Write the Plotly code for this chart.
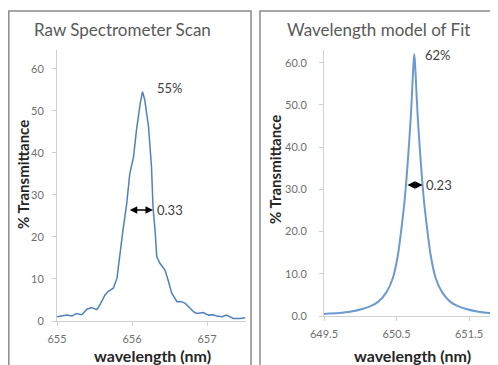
import plotly.graph_objects as go

# page body has an 8px margin; figure sized to fill the rest of the 498x365 window
OFF = 8
W, H = 498 - OFF, 365 - OFF

# ---- data ----
raw_wavelength = [655.00, 655.07, 655.13, 655.20, 655.26, 655.33, 655.40, 655.46, 655.53, 655.57,
                  655.64, 655.68, 655.75, 655.80, 655.84, 655.88, 655.93, 655.97, 656.02, 656.06,
                  656.11, 656.14, 656.17, 656.22, 656.26, 656.28, 656.31, 656.33, 656.37, 656.40,
                  656.44, 656.48, 656.53, 656.60, 656.66, 656.71, 656.77, 656.82, 656.86, 656.95,
                  657.02, 657.08, 657.13, 657.20, 657.26, 657.35, 657.44, 657.51]
raw_transmittance = [1.0, 1.3, 1.4, 1.2, 1.8, 1.5, 2.8, 3.2, 2.7, 3.8,
                     6.2, 7.0, 7.8, 10.2, 16.2, 21.7, 28.0, 35.0, 39.0, 45.5,
                     51.8, 54.6, 52.6, 46.3, 36.7, 27.2, 21.0, 15.3, 13.8, 13.0,
                     12.1, 9.8, 6.6, 4.6, 4.6, 4.2, 3.0, 2.2, 1.8, 2.0,
                     1.4, 1.5, 1.2, 1.0, 1.4, 0.6, 0.6, 0.8]

fit_wavelength = [649.50, 649.70, 649.86, 650.04, 650.15, 650.25, 650.36, 650.45, 650.52, 650.57,
                  650.61, 650.64, 650.67, 650.70, 650.72, 650.735, 650.745, 650.755, 650.77, 650.79,
                  650.82, 650.85, 650.88, 650.92, 650.97, 651.04, 651.13, 651.24, 651.34, 651.45,
                  651.63, 651.79, 651.90]
fit_transmittance = [0.5, 0.7, 1.0, 1.7, 2.4, 3.4, 5.6, 9.0, 14.5, 21.0,
                     27.0, 33.0, 40.0, 48.0, 55.0, 60.0, 62.0, 60.0, 55.0, 48.0,
                     40.0, 33.0, 27.0, 21.0, 14.5, 9.0, 5.6, 3.4, 2.4, 1.7,
                     1.0, 0.7, 0.6]

left_title = "Raw Spectrometer Scan"
right_title = "Wavelength model of Fit"
y_title = "% Transmittance"
x_title = "wavelength (nm)"
left_xticks = [655, 656, 657]
left_yticks = [0, 10, 20, 30, 40, 50, 60]
right_xticks = [649.5, 650.5, 651.5]
right_yticks = [0, 10, 20, 30, 40, 50, 60]

raw_peak_label = "55%"
raw_fwhm = (655.95, 656.28, 26.4, "0.33")
fit_peak_label = "62%"
fit_fwhm = (650.63, 650.86, 31.0, "0.23")

FONT = "Lato, 'Open Sans', sans-serif"
GRAY_TXT = "#6f6f6f"
AXIS_CLR = "#d0d0d0"

fig = go.Figure()
fig.add_trace(go.Scatter(x=raw_wavelength, y=raw_transmittance, mode="lines",
                         line=dict(color="#4F81BD", width=1.5), xaxis="x", yaxis="y",
                         showlegend=False, hoverinfo="skip"))
fig.add_trace(go.Scatter(x=fit_wavelength, y=fit_transmittance, mode="lines",
                         line=dict(color="#6B9BD0", width=2, shape="spline", smoothing=0.6),
                         xaxis="x2", yaxis="y2", showlegend=False, hoverinfo="skip"))

def px_x(p):
    return (p - OFF) / W

def px_y(p):
    return (H - (p - OFF)) / H

common_axis = dict(showgrid=False, zeroline=False, showline=True, linecolor=AXIS_CLR,
                   linewidth=1, ticks="outside", ticklen=4, tickcolor=AXIS_CLR,
                   tickfont=dict(family=FONT, size=11, color=GRAY_TXT), fixedrange=True,
                   automargin=False)

fig.update_layout(
    width=W, height=H, margin=dict(l=0, r=0, t=0, b=0, pad=0, autoexpand=False),
    paper_bgcolor="white", plot_bgcolor="white",
    xaxis=dict(domain=[px_x(57), px_x(246)], range=[655, 657.52], tickvals=left_xticks,
               anchor="y", **common_axis, ticklabelstandoff=4),
    yaxis=dict(domain=[px_y(321), px_y(50)], range=[0, 64.5], tickvals=left_yticks,
               anchor="x", **common_axis, ticklabelstandoff=6),
    xaxis2=dict(domain=[px_x(324), 1.0], range=[649.5, 651.9], tickvals=right_xticks,
                tickformat=".1f", anchor="y2", **common_axis, ticklabelstandoff=4),
    yaxis2=dict(domain=[px_y(316), px_y(50)], range=[0, 63.0], tickvals=right_yticks,
                tickformat=".1f", anchor="x2", **common_axis, ticklabelstandoff=10),
)

# panel borders
fig.add_shape(type="rect", xref="paper", yref="paper", x0=px_x(8.8), x1=px_x(251),
              y0=-0.05, y1=px_y(11), line=dict(color="#8c8c8c", width=1.5), layer="below")
fig.add_shape(type="rect", xref="paper", yref="paper", x0=px_x(260), x1=1.05,
              y0=-0.05, y1=px_y(11), line=dict(color="#8c8c8c", width=1.5), layer="below")

ann = []
C = dict(xanchor="center", yanchor="middle", showarrow=False, xref="paper", yref="paper")
# chart titles
ann.append(dict(text=left_title, x=px_x(122), y=px_y(29), **C,
                font=dict(family=FONT, size=17, color="#595959")))
ann.append(dict(text=right_title, x=px_x(378), y=px_y(29), **C,
                font=dict(family=FONT, size=17, color="#595959")))
# axis titles
for xx, yy in [(23, 175), (275, 170)]:
    ann.append(dict(text="<b>" + y_title + "</b>", x=px_x(xx), y=px_y(yy), **C,
                    textangle=-90, font=dict(family=FONT, size=15, color="#262626")))
for xx in [152, 412]:
    ann.append(dict(text="<b>" + x_title + "</b>", x=px_x(xx), y=px_y(355), **C,
                    font=dict(family=FONT, size=16, color="#262626")))

# peak labels
ann.append(dict(text=raw_peak_label, x=656.31, y=55.5, xref="x", yref="y", xanchor="left",
                yanchor="middle", showarrow=False,
                font=dict(family=FONT, size=13, color="#404040")))
ann.append(dict(text=fit_peak_label, x=650.87, y=61.8, xref="x2", yref="y2", xanchor="left",
                yanchor="middle", showarrow=False,
                font=dict(family=FONT, size=13, color="#404040")))

# FWHM arrows
for (x0, x1, yv, lab), xr, yr in [(raw_fwhm, "x", "y"), (fit_fwhm, "x2", "y2")]:
    ann.append(dict(x=x1, y=yv, ax=x0, ay=yv, xref=xr, yref=yr, axref=xr, ayref=yr,
                    text="", showarrow=True, arrowhead=2, arrowsize=1, arrowwidth=1.5,
                    arrowcolor="black", arrowside="end+start", standoff=0, startstandoff=0))
    ann.append(dict(text=lab, x=x1 + 0.02, y=yv, xref=xr, yref=yr, xanchor="left",
                    yanchor="middle", showarrow=False,
                    font=dict(family=FONT, size=13, color="#404040")))

fig.update_layout(annotations=ann)
fig.write_html("out.html")
